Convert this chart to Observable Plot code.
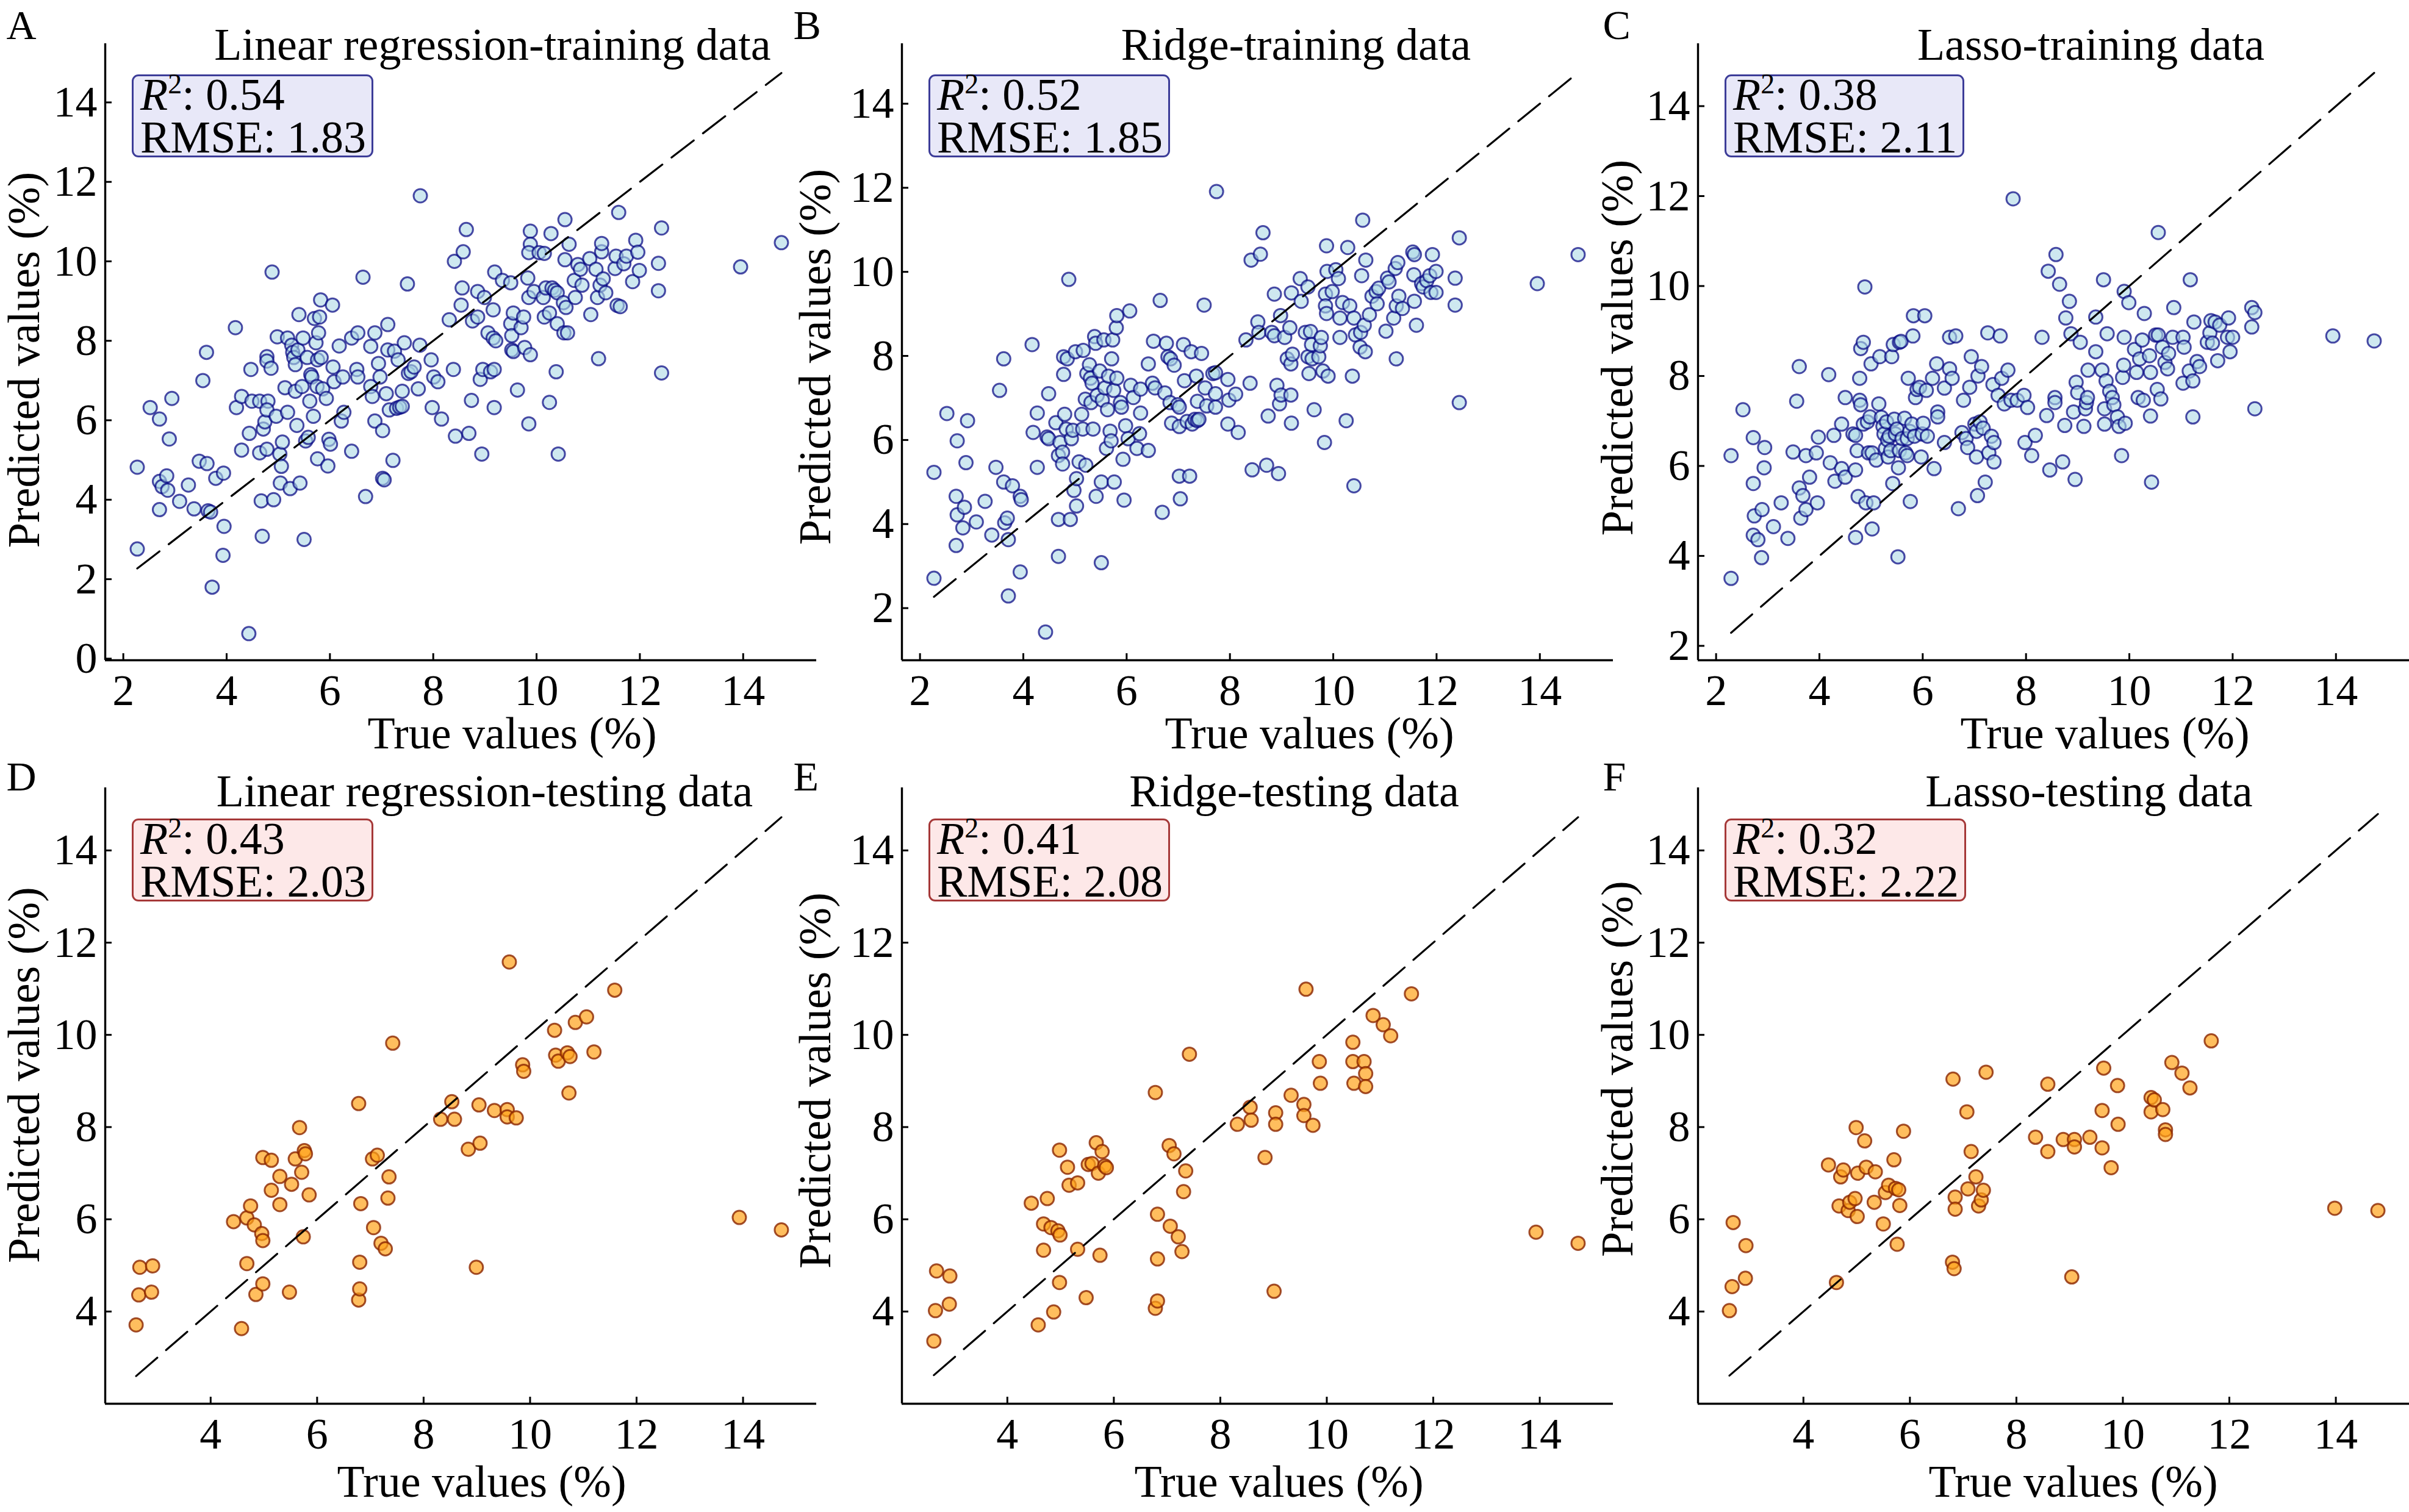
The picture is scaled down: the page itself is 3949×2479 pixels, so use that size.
<!DOCTYPE html>
<html><head><meta charset="utf-8">
<script src="https://cdn.jsdelivr.net/npm/d3@7"></script>
<script src="https://cdn.jsdelivr.net/npm/@observablehq/plot@0.6"></script>
<style>
html,body{margin:0;padding:0;background:#fff;}
#fig{position:relative;width:3949px;height:2479px;overflow:hidden;background:#fff;font-family:"Liberation Serif","Times New Roman",serif;}
#fig svg{position:absolute;overflow:visible;max-width:none;font-family:"Liberation Serif","Times New Roman",serif;}
#fig svg text{font-family:"Liberation Serif","Times New Roman",serif;}
.stat{position:absolute;box-sizing:border-box;border:3px solid;border-radius:11px;font-size:74px;line-height:60px;padding:0 9px 0 11px;white-space:nowrap;color:#000;}
.stat.train{background:#e8e8f8;border-color:#3c3c98;}
.stat.test{background:#fde8e8;border-color:#a53838;}
.stat sup{font-size:46px;vertical-align:baseline;position:relative;top:-27px;}
</style></head><body><div id="fig"></div><script>
// ---- data: [true value, predicted value] ----
const linTrain = [[2.27,4.82],[2.27,2.76],[2.52,6.32],[2.70,6.03],[2.94,6.55],[2.89,5.53],[2.70,4.46],[2.75,4.33],[2.84,4.60],[2.86,4.24],[2.70,3.75],[3.09,3.96],[3.26,4.37],[3.37,3.77],[3.47,4.97],[3.54,7.00],[3.61,7.71],[3.62,4.91],[3.64,3.72],[3.69,3.69],[3.79,4.54],[3.72,1.80],[3.94,4.67],[3.95,3.33],[3.93,2.60],[4.17,8.33],[4.19,6.32],[4.29,6.60],[4.29,5.25],[4.43,0.63],[4.47,7.28],[4.44,5.67],[4.49,6.48],[4.64,6.48],[4.67,3.97],[4.69,3.08],[4.64,5.18],[4.71,5.78],[4.74,5.96],[4.78,7.60],[4.78,7.49],[4.86,7.31],[4.80,6.48],[4.78,6.26],[4.78,5.27],[4.88,9.73],[4.91,4.00],[4.98,8.10],[4.96,6.10],[5.03,5.15],[5.04,4.42],[5.08,5.45],[5.06,4.84],[5.13,6.82],[5.18,6.20],[5.18,8.07],[5.23,4.28],[5.26,7.89],[5.28,7.71],[5.30,7.58],[5.33,7.40],[5.36,5.87],[5.33,6.73],[5.38,7.77],[5.40,8.66],[5.42,4.42],[5.48,8.07],[5.46,6.85],[5.50,3.00],[5.53,5.48],[5.58,5.57],[5.56,7.58],[5.61,6.48],[5.63,7.15],[5.65,7.09],[5.68,6.10],[5.70,8.56],[5.73,7.95],[5.75,6.85],[5.76,7.52],[5.78,8.20],[5.80,8.60],[5.82,9.03],[5.83,7.58],[5.86,6.79],[5.76,5.03],[5.93,6.55],[5.96,4.85],[5.98,5.52],[6.01,5.40],[6.05,8.90],[6.08,6.97],[6.06,7.34],[6.18,7.87],[6.22,5.98],[6.27,6.20],[6.25,7.09],[6.42,5.22],[6.42,8.07],[6.52,7.28],[6.54,7.09],[6.54,8.20],[6.64,9.60],[6.69,4.08],[6.79,6.85],[6.82,6.60],[6.79,7.86],[6.87,8.20],[6.87,5.98],[6.94,7.43],[6.97,7.09],[7.02,5.74],[7.02,4.54],[7.05,4.50],[7.09,6.67],[7.12,8.41],[7.12,7.77],[7.15,6.26],[7.22,4.99],[7.25,7.74],[7.29,6.30],[7.32,7.52],[7.35,6.33],[7.40,6.35],[7.40,6.73],[7.44,7.95],[7.50,9.43],[7.52,7.18],[7.57,7.22],[7.63,7.34],[7.71,6.79],[7.74,7.89],[7.75,11.65],[7.96,7.52],[7.98,6.32],[8.01,7.09],[8.09,6.97],[8.16,6.03],[8.31,8.53],[8.39,7.28],[8.41,10.00],[8.43,5.60],[8.54,8.90],[8.56,9.33],[8.58,10.24],[8.64,10.80],[8.69,5.67],[8.74,6.50],[8.76,8.50],[8.86,8.60],[8.86,9.24],[8.91,7.03],[8.94,5.15],[8.96,7.28],[8.99,9.09],[9.06,8.20],[9.11,7.22],[9.16,8.07],[9.18,6.32],[9.18,7.28],[9.16,8.78],[9.19,9.73],[9.21,8.00],[9.34,9.52],[9.50,8.43],[9.50,9.46],[9.52,8.13],[9.52,7.77],[9.55,8.70],[9.55,7.73],[9.63,6.76],[9.70,8.33],[9.75,8.60],[9.77,7.83],[9.83,9.58],[9.85,5.91],[9.88,7.65],[9.88,10.76],[9.88,10.43],[9.85,10.22],[9.85,9.09],[9.95,9.24],[10.05,10.22],[10.13,9.09],[10.15,10.20],[10.15,8.60],[10.18,9.33],[10.25,6.45],[10.25,8.70],[10.28,10.70],[10.30,9.33],[10.35,9.27],[10.40,9.21],[10.38,7.22],[10.40,8.43],[10.42,5.15],[10.52,8.96],[10.55,11.05],[10.57,8.84],[10.55,10.04],[10.53,8.20],[10.60,8.20],[10.63,10.43],[10.73,9.52],[10.75,9.09],[10.80,9.92],[10.85,9.80],[10.88,9.40],[11.03,10.07],[11.05,8.66],[11.15,9.80],[11.18,9.09],[11.20,7.55],[11.23,9.40],[11.26,10.24],[11.26,10.45],[11.29,9.56],[11.34,9.21],[11.52,9.82],[11.54,10.13],[11.56,8.89],[11.59,11.23],[11.62,8.86],[11.69,9.94],[11.74,10.13],[11.86,9.49],[11.92,10.53],[11.96,10.23],[11.99,9.77],[12.36,9.95],[12.36,9.26],[12.42,10.84],[12.42,7.19],[13.95,9.86],[14.74,10.47]];

const ridgeTrain = [[2.27,5.23],[2.27,2.71],[2.52,6.63],[2.72,5.98],[2.70,4.66],[2.72,4.22],[2.70,3.49],[2.86,4.40],[2.83,3.91],[2.92,6.46],[2.89,5.46],[3.09,4.05],[3.26,4.54],[3.39,3.74],[3.47,5.35],[3.54,7.18],[3.62,5.00],[3.62,7.93],[3.64,4.03],[3.69,4.14],[3.71,3.63],[3.71,2.29],[3.79,4.91],[3.94,4.66],[3.96,4.58],[3.94,2.86],[4.17,8.27],[4.19,6.18],[4.27,6.64],[4.27,5.35],[4.43,1.43],[4.49,7.10],[4.46,6.07],[4.49,6.03],[4.63,6.41],[4.68,5.63],[4.68,3.23],[4.68,4.11],[4.71,5.94],[4.76,5.71],[4.76,5.43],[4.78,7.56],[4.78,7.98],[4.80,6.61],[4.83,6.26],[4.85,7.93],[4.88,9.82],[4.91,4.11],[4.93,6.03],[4.96,6.23],[4.98,4.80],[5.01,8.10],[5.03,4.43],[5.03,5.08],[5.08,5.48],[5.13,6.61],[5.15,6.26],[5.16,8.13],[5.20,6.97],[5.21,5.40],[5.23,7.58],[5.28,7.79],[5.30,7.47],[5.31,6.89],[5.33,7.35],[5.35,6.26],[5.38,8.46],[5.40,8.30],[5.41,4.66],[5.43,7.06],[5.48,7.64],[5.51,5.00],[5.51,3.08],[5.53,6.95],[5.56,8.38],[5.58,7.24],[5.61,5.80],[5.63,6.72],[5.65,7.52],[5.68,6.21],[5.70,5.98],[5.71,7.93],[5.73,8.38],[5.75,7.18],[5.76,5.00],[5.80,8.67],[5.81,8.96],[5.81,7.47],[5.88,6.89],[5.90,6.78],[5.93,5.54],[5.95,4.57],[5.98,6.34],[6.03,6.03],[6.06,9.07],[6.08,7.30],[6.13,7.01],[6.20,5.80],[6.25,6.15],[6.27,6.64],[6.27,7.21],[6.42,5.75],[6.42,7.81],[6.50,7.35],[6.52,8.35],[6.55,7.24],[6.65,9.32],[6.69,4.28],[6.74,7.12],[6.77,8.30],[6.80,7.98],[6.84,6.89],[6.85,7.93],[6.87,6.40],[6.92,7.78],[6.99,6.84],[7.02,6.32],[7.02,6.78],[7.02,5.14],[7.04,4.60],[7.10,8.27],[7.12,7.41],[7.17,6.44],[7.22,5.14],[7.25,8.10],[7.27,6.38],[7.32,6.49],[7.35,7.52],[7.37,6.46],[7.37,6.92],[7.40,6.49],[7.45,8.06],[7.50,9.21],[7.52,7.24],[7.55,6.81],[7.67,7.58],[7.72,6.78],[7.72,7.60],[7.72,7.10],[7.74,11.91],[7.96,7.44],[7.96,6.38],[7.98,6.95],[8.11,7.09],[8.16,6.18],[8.31,8.38],[8.39,7.35],[8.41,10.28],[8.43,5.29],[8.54,8.81],[8.56,8.56],[8.59,10.42],[8.64,10.93],[8.71,5.40],[8.74,6.57],[8.81,8.56],[8.86,8.48],[8.86,9.47],[8.91,7.30],[8.94,5.20],[8.96,6.86],[8.98,8.96],[8.99,7.07],[9.06,8.44],[9.11,7.93],[9.16,8.67],[9.18,7.07],[9.18,7.81],[9.19,9.50],[9.19,6.40],[9.21,8.04],[9.36,9.84],[9.38,9.30],[9.46,8.56],[9.51,9.64],[9.51,7.98],[9.53,7.58],[9.56,8.58],[9.58,8.27],[9.59,7.93],[9.63,6.72],[9.72,7.98],[9.75,8.24],[9.77,8.44],[9.80,7.64],[9.83,5.94],[9.85,9.47],[9.85,9.19],[9.87,9.01],[9.87,10.62],[9.88,10.01],[9.90,7.52],[9.98,9.53],[10.05,10.05],[10.10,9.84],[10.13,8.44],[10.13,8.90],[10.18,9.27],[10.25,6.46],[10.28,10.58],[10.32,9.19],[10.37,7.52],[10.40,4.91],[10.40,8.90],[10.43,8.50],[10.52,8.21],[10.53,8.56],[10.55,9.91],[10.57,11.23],[10.60,8.73],[10.62,8.10],[10.63,10.28],[10.70,8.98],[10.75,9.42],[10.83,9.53],[10.85,9.24],[10.88,9.61],[11.02,8.59],[11.05,9.85],[11.08,9.76],[11.17,8.90],[11.20,10.08],[11.22,7.93],[11.22,9.19],[11.25,10.22],[11.27,9.42],[11.34,9.13],[11.54,10.47],[11.56,9.93],[11.57,10.41],[11.57,9.30],[11.61,8.73],[11.71,9.72],[11.74,9.64],[11.81,9.79],[11.87,9.91],[11.89,9.51],[11.92,10.41],[11.99,9.51],[11.99,10.01],[12.36,9.85],[12.36,9.21],[12.44,10.81],[12.44,6.89],[13.95,9.72],[14.74,10.41]];

const lassoTrain = [[2.29,6.23],[2.29,3.50],[2.52,7.25],[2.72,6.63],[2.72,5.61],[2.74,4.89],[2.72,4.46],[2.81,4.36],[2.89,5.03],[2.88,3.96],[2.94,6.41],[2.93,5.96],[3.11,4.65],[3.26,5.18],[3.39,4.39],[3.49,6.31],[3.56,7.44],[3.61,8.21],[3.61,5.51],[3.64,4.84],[3.68,5.34],[3.74,6.23],[3.74,5.03],[3.81,5.75],[3.94,6.29],[3.96,5.18],[3.98,6.64],[4.18,8.03],[4.21,6.07],[4.28,6.68],[4.30,5.66],[4.43,6.93],[4.43,5.94],[4.50,7.52],[4.50,5.75],[4.65,6.71],[4.70,5.91],[4.70,4.41],[4.70,6.68],[4.73,6.34],[4.75,5.32],[4.78,7.95],[4.78,7.46],[4.80,7.36],[4.80,8.61],[4.85,8.75],[4.85,6.93],[4.88,9.98],[4.90,5.18],[4.93,6.98],[4.95,6.29],[4.98,7.09],[5.00,8.27],[5.02,6.29],[5.05,5.18],[5.02,4.60],[5.10,6.13],[5.15,7.38],[5.17,8.43],[5.20,7.08],[5.23,6.88],[5.25,6.71],[5.28,6.39],[5.30,6.98],[5.32,6.58],[5.33,6.20],[5.35,6.66],[5.38,6.34],[5.40,8.43],[5.42,5.61],[5.43,8.70],[5.45,7.04],[5.47,6.71],[5.50,6.82],[5.52,3.98],[5.53,5.96],[5.55,8.75],[5.55,6.34],[5.58,8.77],[5.60,6.61],[5.65,7.06],[5.67,6.29],[5.70,6.61],[5.70,6.23],[5.72,7.95],[5.75,6.77],[5.76,5.21],[5.79,6.93],[5.81,8.89],[5.82,9.34],[5.84,6.66],[5.86,7.52],[5.89,7.70],[5.94,7.75],[5.97,6.20],[5.99,6.71],[6.01,6.95],[6.04,9.34],[6.07,7.68],[6.09,6.66],[6.19,7.95],[6.22,5.94],[6.27,8.27],[6.29,7.20],[6.29,7.09],[6.42,6.52],[6.42,7.73],[6.52,8.16],[6.52,8.86],[6.57,7.95],[6.64,8.89],[6.69,5.05],[6.76,6.74],[6.79,7.46],[6.84,6.61],[6.87,6.41],[6.91,7.75],[6.94,8.43],[7.01,6.93],[7.04,6.77],[7.04,6.20],[7.06,5.34],[7.07,8.00],[7.11,6.98],[7.14,8.21],[7.17,6.84],[7.21,5.64],[7.26,8.96],[7.28,6.29],[7.33,6.66],[7.36,7.81],[7.38,6.52],[7.38,6.09],[7.46,7.57],[7.50,8.89],[7.53,7.95],[7.58,7.38],[7.65,8.13],[7.71,7.46],[7.75,11.94],[7.83,7.46],[7.96,7.57],[7.98,6.52],[8.03,7.30],[8.11,6.23],[8.18,6.68],[8.31,8.86],[8.40,7.12],[8.43,10.33],[8.46,5.91],[8.56,7.52],[8.56,7.41],[8.58,10.70],[8.65,10.04],[8.71,6.09],[8.75,6.90],[8.77,9.29],[8.84,9.66],[8.87,8.94],[8.92,7.20],[8.95,5.70],[8.97,7.86],[9.00,7.63],[9.05,8.75],[9.12,6.88],[9.15,7.27],[9.17,7.41],[9.19,7.52],[9.20,8.13],[9.35,9.31],[9.35,8.54],[9.47,8.13],[9.50,10.14],[9.52,7.27],[9.52,6.93],[9.55,7.89],[9.57,8.94],[9.62,7.66],[9.67,7.52],[9.70,7.36],[9.77,7.09],[9.80,6.88],[9.85,6.23],[9.87,7.97],[9.89,8.24],[9.90,9.88],[9.92,6.95],[9.90,8.86],[9.99,9.63],[10.10,8.59],[10.14,8.08],[10.17,7.52],[10.20,8.38],[10.25,8.80],[10.27,7.46],[10.29,9.39],[10.39,8.45],[10.41,8.08],[10.41,7.11],[10.43,5.64],[10.51,8.91],[10.54,7.70],[10.56,11.19],[10.56,8.91],[10.61,7.49],[10.64,8.64],[10.69,8.30],[10.74,8.16],[10.76,8.50],[10.84,8.86],[10.86,9.52],[11.04,8.86],[11.04,7.84],[11.06,8.64],[11.16,8.11],[11.18,10.14],[11.23,7.09],[11.23,7.89],[11.25,9.20],[11.31,8.32],[11.36,8.21],[11.51,8.75],[11.56,8.96],[11.58,9.23],[11.61,8.73],[11.66,9.20],[11.71,8.34],[11.75,9.13],[11.90,8.86],[11.92,9.29],[11.95,8.54],[12.00,8.86],[12.37,9.52],[12.37,9.09],[12.43,9.41],[12.43,7.27],[13.94,8.89],[14.74,8.78]];

const linTest = [[2.60,3.71],[2.65,4.36],[2.67,4.96],[2.89,4.42],[2.91,4.99],[4.43,5.95],[4.58,3.63],[4.68,6.03],[4.68,5.04],[4.75,6.29],[4.82,5.88],[4.85,4.37],[4.96,5.69],[4.98,5.54],[4.98,4.60],[4.98,7.34],[5.14,6.63],[5.14,7.28],[5.30,6.93],[5.30,6.32],[5.48,4.42],[5.52,6.76],[5.59,7.31],[5.67,7.99],[5.71,7.02],[5.74,5.62],[5.76,7.49],[5.78,7.42],[5.85,6.53],[6.78,8.51],[6.78,4.25],[6.80,4.49],[6.80,5.07],[6.82,6.34],[7.04,7.31],[7.06,5.82],[7.13,7.39],[7.20,5.48],[7.28,5.36],[7.33,6.46],[7.35,6.92],[7.42,9.82],[8.32,8.17],[8.53,8.55],[8.58,8.17],[8.84,7.52],[9.04,8.48],[9.06,7.65],[8.99,4.96],[9.33,8.36],[9.57,8.38],[9.57,8.22],[9.74,8.20],[9.61,11.58],[9.86,9.35],[9.88,9.21],[10.46,10.10],[10.48,9.56],[10.53,9.43],[10.70,9.61],[10.75,9.53],[10.73,8.74],[10.85,10.27],[11.06,10.39],[11.20,9.63],[11.59,10.97],[13.93,6.04],[14.72,5.77]];

const ridgeTest = [[2.62,3.36],[2.65,4.02],[2.67,4.88],[2.91,4.16],[2.92,4.77],[4.45,6.35],[4.58,3.71],[4.68,5.90],[4.68,5.33],[4.75,6.45],[4.82,5.82],[4.87,3.99],[4.95,5.75],[4.99,5.66],[4.98,4.63],[4.98,7.50],[5.13,7.13],[5.16,6.74],[5.32,6.79],[5.32,5.35],[5.48,4.30],[5.52,7.19],[5.59,7.21],[5.67,7.66],[5.71,7.00],[5.74,5.22],[5.78,7.47],[5.83,7.16],[5.86,7.12],[6.78,8.75],[6.78,4.07],[6.82,4.23],[6.82,5.14],[6.82,6.11],[7.04,7.60],[7.06,5.85],[7.13,7.42],[7.21,5.62],[7.28,5.30],[7.31,6.60],[7.35,7.05],[7.42,9.58],[8.32,8.06],[8.56,8.43],[8.58,8.15],[8.84,7.34],[9.01,4.44],[9.04,8.31],[9.04,8.06],[9.33,8.69],[9.57,8.49],[9.57,8.25],[9.74,8.04],[9.61,10.99],[9.86,9.42],[9.88,8.95],[10.49,9.84],[10.49,9.42],[10.51,8.95],[10.70,9.42],[10.73,9.16],[10.73,8.88],[10.87,10.42],[11.06,10.22],[11.20,9.98],[11.59,10.89],[13.93,5.72],[14.72,5.48]];

const lassoTest = [[2.61,4.02],[2.66,4.54],[2.68,5.93],[2.91,4.72],[2.92,5.43],[4.47,7.18],[4.62,4.63],[4.67,6.29],[4.70,6.92],[4.75,7.07],[4.84,6.19],[4.87,6.37],[4.97,6.45],[5.01,6.06],[4.99,7.99],[5.02,7.00],[5.15,7.70],[5.18,7.13],[5.33,6.37],[5.35,7.03],[5.50,5.90],[5.54,6.58],[5.60,6.74],[5.70,7.29],[5.73,6.67],[5.76,5.46],[5.79,6.64],[5.81,6.30],[5.88,7.91],[6.81,9.04],[6.80,5.07],[6.83,4.93],[6.85,6.48],[6.85,6.22],[7.07,8.33],[7.09,6.66],[7.15,7.47],[7.24,6.92],[7.29,6.29],[7.34,6.42],[7.38,6.63],[7.43,9.19],[8.36,7.78],[8.59,8.93],[8.59,7.47],[8.88,7.73],[9.04,4.75],[9.09,7.73],[9.09,7.57],[9.38,7.78],[9.61,7.55],[9.61,8.36],[9.78,7.12],[9.64,9.28],[9.90,8.90],[9.91,8.06],[10.53,8.64],[10.53,8.33],[10.59,8.59],[10.75,8.38],[10.80,7.94],[10.80,7.84],[10.92,9.40],[11.11,9.17],[11.26,8.85],[11.66,9.87],[13.98,6.24],[14.79,6.19]];

// ---- tick labels, titles, statistics ----
const xTicksTop = [2, 4, 6, 8, 10, 12, 14];
const xTicksBottom = [4, 6, 8, 10, 12, 14];
const yTicksA = [0, 2, 4, 6, 8, 10, 12, 14];
const yTicksBC = [2, 4, 6, 8, 10, 12, 14];
const yTicksBottom = [4, 6, 8, 10, 12, 14];
const letters = ["A", "B", "C", "D", "E", "F"];
const titles = ["Linear regression-training data", "Ridge-training data", "Lasso-training data",
                "Linear regression-testing data", "Ridge-testing data", "Lasso-testing data"];
const r2Values = ["0.54", "0.52", "0.38", "0.43", "0.41", "0.32"];
const rmseValues = ["1.83", "1.85", "2.11", "2.03", "2.08", "2.22"];
const xLabel = "True values (%)";
const yLabel = "Predicted values (%)";

// ---- layout ----
const FONT = "Liberation Serif";
const ML = 200, MR = 20, MT = 90, MB = 175, PW = 1166;
const colLeft = [172, 1478, 2783];
const rowTop = [71, 1291], rowH = [1011, 1010];
const panels = [
  {data: linTrain,   kind: "train", xDomain: [1.65, 15.42], xTicks: xTicksTop, yDomain: [-0.04, 15.48], yTicks: yTicksA,  titleDx: 52, xlDx: 84, ylDx: -109, ylDy: 13,  letterDx: -162},
  {data: ridgeTrain, kind: "train", xDomain: [1.65, 15.42], xTicks: xTicksTop, yDomain: [0.76, 15.43],  yTicks: yTicksBC, titleDx: 63, xlDx: 85, ylDx: -118, ylDy: 8,   letterDx: -178},
  {data: lassoTrain, kind: "train", xDomain: [1.65, 15.42], xTicks: xTicksTop, yDomain: [1.68, 15.39],  yTicks: yTicksBC, titleDx: 61, xlDx: 84, ylDx: -108, ylDy: -7,  letterDx: -156},
  {data: linTest,    kind: "test",  xDomain: [2.02, 15.38], xTicks: xTicksBottom, yDomain: [2.0, 15.36], yTicks: yTicksBottom, titleDx: 39, xlDx: 34, ylDx: -109, ylDy: -34, letterDx: -162},
  {data: ridgeTest,  kind: "test",  xDomain: [2.02, 15.38], xTicks: xTicksBottom, yDomain: [2.0, 15.36], yTicks: yTicksBottom, titleDx: 60, xlDx: 35, ylDx: -118, ylDy: -25, letterDx: -178},
  {data: lassoTest,  kind: "test",  xDomain: [2.02, 15.38], xTicks: xTicksBottom, yDomain: [2.0, 15.36], yTicks: yTicksBottom, titleDx: 58, xlDx: 32, ylDx: -108, ylDy: -44, letterDx: -156}
];
const styleOf = {
  train: {fill: "#add8e6", fillOpacity: 0.6, stroke: "#000080", strokeOpacity: 0.7},
  test:  {fill: "#ffa31a", fillOpacity: 0.7, stroke: "#8b2500", strokeOpacity: 0.8}
};

const fig = document.getElementById("fig");
panels.forEach((p, i) => {
  const row = Math.floor(i / 3), col = i % 3;
  const left = colLeft[col], top = rowTop[row], PH = rowH[row];
  const [lo, hi] = d3.extent(p.data, d => d[0]);
  const s = styleOf[p.kind];
  const svg = Plot.plot({
    width: ML + PW + MR, height: MT + PH + MB,
    marginLeft: ML, marginRight: MR, marginTop: MT, marginBottom: MB,
    style: {fontFamily: FONT, fontSize: "72px", background: "transparent", color: "black", overflow: "visible"},
    x: {domain: p.xDomain},
    y: {domain: p.yDomain},
    marks: [
      Plot.dot(p.data, {x: d => d[0], y: d => d[1], r: 11, strokeWidth: 3, ...s}),
      Plot.line([lo, hi], {x: d => d, y: d => d, stroke: "black", strokeWidth: 3.2, strokeDasharray: "46,19"}),
      Plot.ruleX([p.xDomain[0]], {stroke: "black", strokeWidth: 3.4}),
      Plot.ruleY([p.yDomain[0]], {stroke: "black", strokeWidth: 3.4}),
      Plot.axisX({ticks: p.xTicks, tickSize: -11, strokeWidth: 3, tickFormat: () => "", label: null}),
      Plot.axisX({ticks: p.xTicks, tickSize: 0, tickPadding: 22, fontSize: 72, fontFamily: FONT, tickFormat: d => String(d), label: null}),
      Plot.axisY({ticks: p.yTicks, tickSize: -11, strokeWidth: 3, tickFormat: () => "", label: null}),
      Plot.axisY({ticks: p.yTicks, tickSize: 0, tickPadding: 13, fontSize: 72, fontFamily: FONT, tickFormat: d => String(d), label: null}),
      Plot.text([titles[i]], {frameAnchor: "top", lineAnchor: "bottom", dx: p.titleDx, dy: row === 0 ? 26 : 30, fontSize: 74, fontFamily: FONT, fill: "black"}),
      Plot.text([xLabel], {frameAnchor: "bottom", lineAnchor: "bottom", dx: p.xlDx, dy: row === 0 ? 144 : 152, fontSize: 74, fontFamily: FONT, fill: "black"}),
      Plot.text([yLabel], {frameAnchor: "left", lineAnchor: "bottom", textAnchor: "middle", rotate: -90, dx: p.ylDx, dy: p.ylDy, fontSize: 74, fontFamily: FONT, fill: "black"}),
      Plot.text([letters[i]], {frameAnchor: "top-left", textAnchor: "start", lineAnchor: "bottom", dx: p.letterDx, dy: row === 0 ? -8 : 4, fontSize: 68, fontFamily: FONT, fill: "black"})
    ]
  });
  svg.style.left = (left - ML) + "px";
  svg.style.top = (top - MT) + "px";
  fig.appendChild(svg);

  const box = document.createElement("div");
  box.className = "stat " + p.kind;
  box.style.left = (left + 44) + "px";
  box.style.top = (top + 51) + "px";
  box.innerHTML = `<i>R</i><sup>2</sup>: ${r2Values[i]}<br>RMSE: ${rmseValues[i]}`;
  fig.appendChild(box);
});
</script></body></html>
